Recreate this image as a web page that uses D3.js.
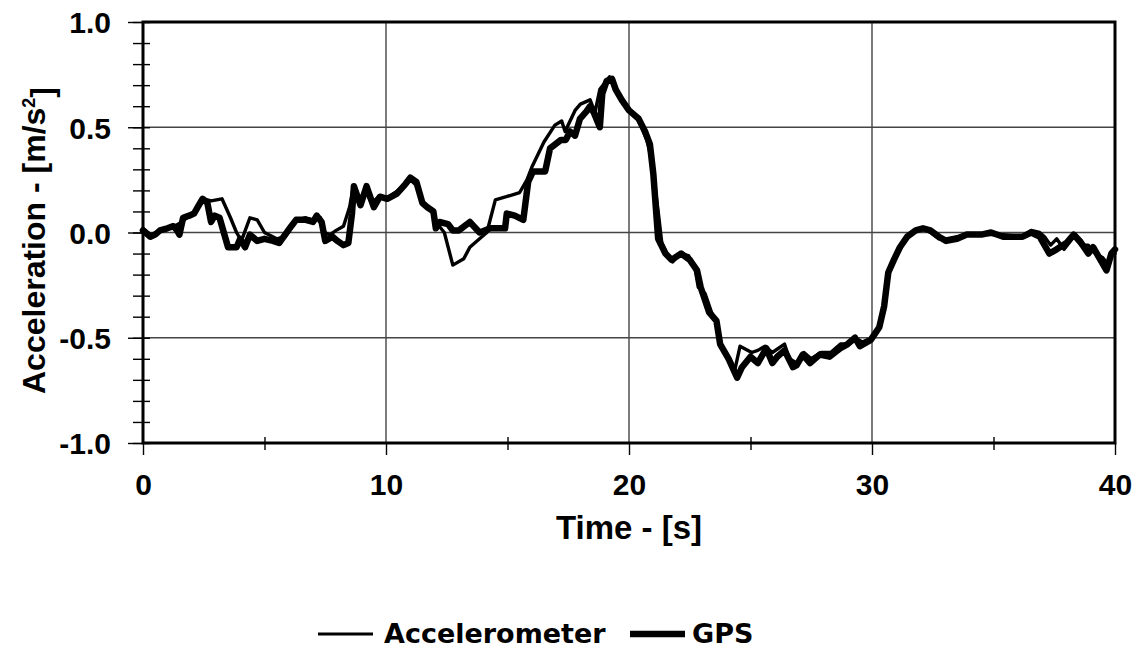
<!DOCTYPE html>
<html>
<head>
<meta charset="utf-8">
<script src="https://cdn.jsdelivr.net/npm/d3@7"></script>
<style>
  html, body { margin: 0; padding: 0; background: #fff; }
  svg { display: block; }
  text { font-family: "Liberation Sans", Arial, sans-serif; font-weight: bold; fill: #000; }
</style>
</head>
<body>
<svg id="chart" width="1138" height="659"></svg>
<script>
// Time [s] and acceleration [m/s^2] samples, as [t, a] pairs
const accelerometer = [
  [0.0, 0.02], [0.3, -0.01], [0.6, 0.0], [0.9, 0.02], [1.3, 0.03], [1.6, 0.05], [1.9, 0.08],
  [2.2, 0.1], [2.5, 0.16], [2.8, 0.15], [3.25, 0.16], [3.6, 0.07], [3.85, 0.0], [4.05, -0.04],
  [4.4, 0.07], [4.7, 0.06], [5.0, 0.0], [5.5, -0.03], [5.85, -0.02], [6.1, 0.02], [6.35, 0.06],
  [6.7, 0.07], [7.0, 0.06], [7.3, 0.07], [7.45, 0.0], [7.7, -0.01], [7.95, 0.01], [8.25, 0.03],
  [8.5, 0.12], [8.66, 0.22], [8.9, 0.15], [9.15, 0.2], [9.4, 0.14], [9.7, 0.17], [10.0, 0.16],
  [10.5, 0.2], [11.0, 0.25], [11.3, 0.22], [11.55, 0.13], [11.9, 0.1], [12.05, 0.05], [12.4, 0.0],
  [12.75, -0.155], [13.2, -0.125], [13.45, -0.07], [13.85, -0.03], [14.15, 0.0], [14.5, 0.155],
  [14.95, 0.17], [15.5, 0.19], [15.8, 0.25], [16.0, 0.31], [16.5, 0.43], [16.95, 0.51],
  [17.23, 0.53], [17.37, 0.48], [17.78, 0.58], [18.0, 0.61], [18.4, 0.63], [18.6, 0.57],
  [18.8, 0.68], [19.2, 0.74], [19.55, 0.66], [19.97, 0.58], [20.25, 0.56], [20.52, 0.5],
  [20.73, 0.44], [20.93, 0.345], [21.2, 0.1], [21.35, -0.05], [21.6, -0.11], [21.8, -0.14],
  [22.1, -0.1], [22.45, -0.11], [22.7, -0.16], [22.85, -0.26], [23.13, -0.29], [23.4, -0.38],
  [23.67, -0.45], [23.8, -0.54], [24.1, -0.6], [24.36, -0.65], [24.57, -0.54], [25.05, -0.57],
  [25.3, -0.56], [25.6, -0.54], [25.9, -0.57], [26.4, -0.53], [26.6, -0.6], [26.9, -0.62],
  [27.2, -0.57], [27.5, -0.6], [27.9, -0.57], [28.3, -0.57], [28.7, -0.53], [29.0, -0.53],
  [29.3, -0.5], [29.6, -0.52], [30.0, -0.5], [30.3, -0.46], [30.5, -0.36], [30.65, -0.2],
  [30.9, -0.12], [31.2, -0.06], [31.5, -0.01], [31.8, 0.01], [32.1, 0.02], [32.4, 0.0],
  [32.75, -0.03], [33.05, -0.03], [33.5, -0.02], [34.0, -0.01], [34.9, -0.01], [35.4, -0.01],
  [36.2, -0.02], [36.55, 0.01], [36.9, 0.0], [37.1, -0.02], [37.35, -0.06], [37.6, -0.03],
  [37.9, -0.08], [38.3, -0.02], [38.6, -0.06], [38.9, -0.06], [39.2, -0.1], [39.5, -0.12],
  [39.7, -0.15], [39.85, -0.09], [40.0, -0.1]
];

const gps = [
  [0.0, 0.01], [0.3, -0.02], [0.5, -0.01], [0.7, 0.01], [1.0, 0.02], [1.25, 0.03], [1.4, 0.01],
  [1.5, -0.01], [1.65, 0.07], [1.9, 0.08], [2.1, 0.09], [2.25, 0.12], [2.45, 0.16], [2.65, 0.14],
  [2.8, 0.05], [2.95, 0.08], [3.15, 0.07], [3.5, -0.07], [3.85, -0.07], [4.0, -0.03], [4.2, -0.07],
  [4.4, -0.01], [4.7, -0.04], [5.0, -0.03], [5.35, -0.04], [5.6, -0.05], [5.85, -0.01], [6.1, 0.03],
  [6.3, 0.06], [6.7, 0.06], [7.0, 0.05], [7.15, 0.08], [7.35, 0.05], [7.5, -0.04], [7.8, -0.02],
  [8.0, -0.04], [8.25, -0.06], [8.45, -0.05], [8.6, 0.09], [8.68, 0.22], [8.95, 0.13], [9.2, 0.22],
  [9.5, 0.12], [9.75, 0.17], [10.05, 0.16], [10.45, 0.185], [10.8, 0.23], [11.0, 0.26],
  [11.25, 0.24], [11.5, 0.14], [11.7, 0.12], [11.95, 0.1], [12.05, 0.02], [12.2, 0.05],
  [12.55, 0.04], [12.75, 0.01], [13.0, 0.01], [13.45, 0.05], [13.85, 0.0], [14.3, 0.02],
  [14.9, 0.02], [14.97, 0.09], [15.3, 0.08], [15.65, 0.06], [15.85, 0.24], [16.05, 0.29],
  [16.55, 0.29], [16.75, 0.4], [17.2, 0.44], [17.4, 0.44], [17.57, 0.48], [17.78, 0.46],
  [17.98, 0.54], [18.25, 0.575], [18.4, 0.6], [18.55, 0.57], [18.8, 0.5], [18.9, 0.66],
  [19.08, 0.72], [19.3, 0.73], [19.45, 0.68], [19.7, 0.63], [20.0, 0.58], [20.4, 0.54],
  [20.66, 0.48], [20.86, 0.42], [21.0, 0.28], [21.2, -0.03], [21.5, -0.1], [21.75, -0.13],
  [22.15, -0.1], [22.5, -0.13], [22.8, -0.18], [22.95, -0.26], [23.3, -0.38], [23.6, -0.42],
  [23.75, -0.53], [24.1, -0.6], [24.45, -0.69], [24.65, -0.64], [25.0, -0.59], [25.3, -0.62],
  [25.65, -0.55], [25.9, -0.62], [26.1, -0.59], [26.4, -0.56], [26.75, -0.64], [26.9, -0.63],
  [27.15, -0.58], [27.45, -0.62], [27.85, -0.58], [28.25, -0.59], [28.7, -0.55], [29.0, -0.53],
  [29.3, -0.5], [29.5, -0.54], [29.95, -0.51], [30.3, -0.45], [30.5, -0.35], [30.67, -0.19],
  [30.9, -0.13], [31.15, -0.07], [31.45, -0.02], [31.8, 0.01], [32.1, 0.02], [32.4, 0.01],
  [32.75, -0.02], [33.05, -0.04], [33.5, -0.03], [33.9, -0.01], [34.5, -0.01], [34.9, 0.0],
  [35.4, -0.02], [36.2, -0.02], [36.55, 0.0], [36.9, -0.02], [37.3, -0.1], [37.6, -0.08],
  [38.0, -0.05], [38.3, -0.01], [38.55, -0.04], [38.9, -0.1], [39.1, -0.07], [39.45, -0.14],
  [39.65, -0.18], [39.85, -0.1], [40.0, -0.08]
];

const xMajorTicks = [0, 10, 20, 30, 40];
const xMinorTicks = [5, 15, 25, 35];
const yMajorTicks = [-1.0, -0.5, 0.0, 0.5, 1.0];
const yMinorTicks = d3.range(-10, 11).map(i => i / 10);
const seriesNames = ["Accelerometer", "GPS"];

const svg = d3.select("#chart");
const plotLeft = 143, plotRight = 1115, plotTop = 22, plotBottom = 443;

const x = d3.scaleLinear().domain([0, 40]).range([plotLeft, plotRight]);
const y = d3.scaleLinear().domain([-1, 1]).range([plotBottom, plotTop]);

// grid lines
const grid = svg.append("g").attr("stroke", "#444").attr("stroke-width", 1.4);
grid.selectAll(".gx").data(xMajorTicks.slice(1, -1)).enter().append("line")
  .attr("x1", d => x(d)).attr("x2", d => x(d)).attr("y1", plotTop).attr("y2", plotBottom);
grid.selectAll(".gy").data(yMajorTicks.slice(1, -1)).enter().append("line")
  .attr("x1", plotLeft).attr("x2", plotRight).attr("y1", d => y(d)).attr("y2", d => y(d));

// y axis: major ticks outside, minor ticks crossing the axis
const yAxisMajor = d3.axisLeft(y).tickValues(yMajorTicks).tickSize(15).tickPadding(17)
  .tickFormat(d => d3.format(".1f")(d).replace("\u2212", "-"));
const gy = svg.append("g").attr("transform", `translate(${plotLeft},0)`).call(yAxisMajor);
gy.select(".domain").remove();
gy.selectAll(".tick line").attr("stroke", "#000").attr("stroke-width", 1.4);
gy.selectAll(".tick text").style("font-size", "30px").attr("dy", "0.36em");

const gyMinor = svg.append("g").attr("transform", `translate(${plotLeft},0)`)
  .call(d3.axisLeft(y).tickValues(yMinorTicks).tickSize(10).tickFormat(""));
gyMinor.select(".domain").remove();
gyMinor.selectAll(".tick line").attr("x1", 7).attr("stroke", "#000").attr("stroke-width", 1.4);

// x axis
const gx = svg.append("g").attr("transform", `translate(0,${plotBottom})`)
  .call(d3.axisBottom(x).tickValues(xMajorTicks).tickSize(12).tickPadding(19).tickFormat(d3.format("d")));
gx.select(".domain").remove();
gx.selectAll(".tick line").attr("stroke", "#000").attr("stroke-width", 1.4);
gx.selectAll(".tick text").style("font-size", "30px").attr("dy", "0.71em");

const gxMinor = svg.append("g").attr("transform", `translate(0,${plotBottom})`)
  .call(d3.axisBottom(x).tickValues(xMinorTicks).tickSize(7).tickFormat(""));
gxMinor.select(".domain").remove();
gxMinor.selectAll(".tick line").attr("y1", -6).attr("stroke", "#000").attr("stroke-width", 1.4);

// plot frame
svg.append("rect").attr("x", plotLeft).attr("y", plotTop)
  .attr("width", plotRight - plotLeft).attr("height", plotBottom - plotTop)
  .attr("fill", "none").attr("stroke", "#000").attr("stroke-width", 3);

// data lines
const line = d3.line().x(d => x(d[0])).y(d => y(d[1]));
svg.append("path").datum(accelerometer).attr("d", line)
  .attr("fill", "none").attr("stroke", "#000").attr("stroke-width", 3.4)
  .attr("stroke-linejoin", "round").attr("stroke-linecap", "round");
svg.append("path").datum(gps).attr("d", line)
  .attr("fill", "none").attr("stroke", "#000").attr("stroke-width", 6.5)
  .attr("stroke-linejoin", "round").attr("stroke-linecap", "round");

// axis titles
svg.append("text").attr("x", (plotLeft + plotRight) / 2).attr("y", 539).attr("text-anchor", "middle")
  .style("font-size", "33px").text("Time - [s]");

const yTitle = svg.append("text")
  .attr("transform", `translate(45,${(plotTop + plotBottom) / 2 + 8}) rotate(-90)`)
  .attr("text-anchor", "middle").style("font-size", "32px");
yTitle.append("tspan").text("Acceleration - [m/s");
yTitle.append("tspan").attr("dy", "-0.55em").style("font-size", "18px").text("2");
yTitle.append("tspan").attr("dy", "0.55em").text("]");

// legend
const legend = svg.append("g");
const legendItems = [
  { name: seriesNames[0], width: 3, x1: 318, x2: 373, tx: 384 },
  { name: seriesNames[1], width: 6.5, x1: 630, x2: 685, tx: 692 }
];
legendItems.forEach(it => {
  legend.append("line").attr("x1", it.x1).attr("x2", it.x2).attr("y1", 634).attr("y2", 634)
    .attr("stroke", "#000").attr("stroke-width", it.width);
  legend.append("text").attr("x", it.tx).attr("y", 643)
    .style("font-family", "'DejaVu Sans', Verdana, sans-serif")
    .style("font-size", "27px").text(it.name);
});
</script>
</body>
</html>
